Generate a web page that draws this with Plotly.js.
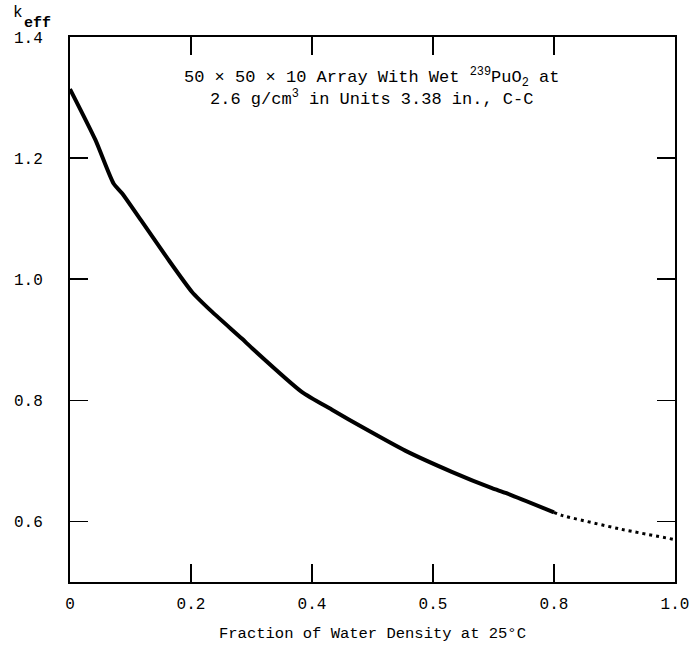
<!DOCTYPE html>
<html>
<head>
<meta charset="utf-8">
<script src="https://cdn.plot.ly/plotly-3.0.1.min.js"></script>
<style>html,body{margin:0;padding:0;background:#fff;}</style>
</head>
<body>
<div id="chart" style="width:697px;height:648px;"></div>
<script>
// Measured (solid) portion of the curve
const waterFracSolid = [0, 0.042, 0.072, 0.086, 0.119, 0.16, 0.2017, 0.235, 0.284, 0.301, 0.383, 0.433, 0.488, 0.554, 0.631, 0.6975, 0.72, 0.80];
const keffSolid      = [1.314, 1.230, 1.158, 1.142, 1.095, 1.036, 0.979, 0.946, 0.902, 0.886, 0.814, 0.7845, 0.753, 0.717, 0.682, 0.655, 0.647, 0.615];
// Extrapolated (dotted) portion
const waterFracDotted = [0.80, 0.813, 0.907, 1.0];
const keffDotted      = [0.615, 0.610, 0.588, 0.570];

const xTickVals = [0, 0.2, 0.4, 0.6, 0.8, 1.0];
const xTickText = ["0", "0.2", "0.4", "0.5", "0.8", "1.0"];
const yTickVals = [0.6, 0.8, 1.0, 1.2, 1.4];
const yTickText = ["0.6", "0.8", "1.0", "1.2", "1.4"];

const FONT = "Liberation Mono, Courier New, monospace";

const traces = [
  {x: waterFracSolid, y: keffSolid, mode: "lines", type: "scatter",
   line: {color: "#000", width: 4, shape: "spline", smoothing: 0.6}, hoverinfo: "skip"},
  {x: waterFracDotted, y: keffDotted, mode: "lines", type: "scatter",
   line: {color: "#000", width: 3, dash: "3px,4px", shape: "spline", smoothing: 0.5}, hoverinfo: "skip"}
];

const layout = {
  width: 697, height: 648,
  margin: {l: 70, r: 22, t: 37, b: 66},
  paper_bgcolor: "#fff", plot_bgcolor: "#fff",
  showlegend: false,
  font: {family: FONT, size: 16, color: "#000"},
  xaxis: {
    range: [0, 1], tickvals: xTickVals, ticktext: xTickText,
    ticks: "inside", ticklen: 18, tickwidth: 1.5, tickcolor: "#000",
    showline: true, linewidth: 2, linecolor: "#000", mirror: "ticks",
    showgrid: false, zeroline: false, ticklabelstandoff: 6,
    title: {text: "Fraction of Water Density at 25°C", font: {family: FONT, size: 15.5, color: "#000"}, standoff: 14},
    tickfont: {family: FONT, size: 16, color: "#000"}
  },
  yaxis: {
    range: [0.5, 1.4], tickvals: yTickVals, ticktext: yTickText,
    ticks: "inside", ticklen: 18, tickwidth: 1.5, tickcolor: "#000",
    showline: true, linewidth: 2, linecolor: "#000", mirror: "ticks",
    showgrid: false, zeroline: false, ticklabelstandoff: 22,
    tickfont: {family: FONT, size: 16, color: "#000"}
  },
  annotations: [
    {xref: "paper", yref: "paper", x: -0.086, y: 1.044, xanchor: "center", yanchor: "middle",
     text: "k", showarrow: false, font: {family: FONT, size: 16, color: "#000"}},
    {xref: "paper", yref: "paper", x: -0.054, y: 1.025, xanchor: "center", yanchor: "middle",
     text: "<b>eff</b>", showarrow: false, font: {family: FONT, size: 15, color: "#000"}},
    {xref: "paper", yref: "paper", x: 0.499, y: 0.908, xanchor: "center", yanchor: "middle", align: "center",
     text: "50 × 50 × 10 Array With Wet <sup>239</sup>PuO<sub>2</sub> at<br>2.6 g/cm<sup>3</sup> in Units 3.38 in., C-C",
     showarrow: false, font: {family: FONT, size: 17, color: "#000"}}
  ]
};

Plotly.newPlot("chart", traces, layout, {staticPlot: true, displayModeBar: false});
</script>
</body>
</html>
